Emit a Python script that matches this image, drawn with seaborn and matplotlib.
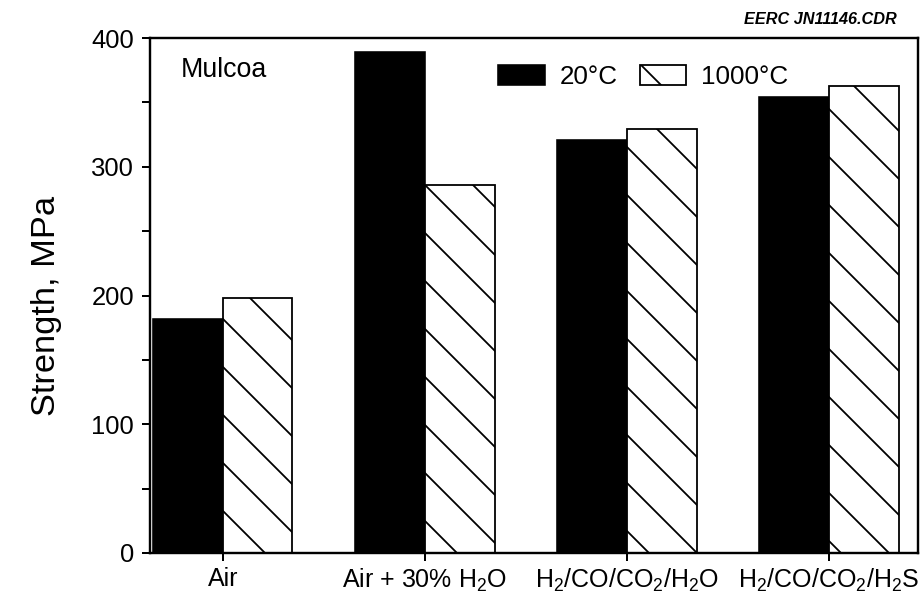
import matplotlib
matplotlib.use("Agg")
import matplotlib.pyplot as plt
import pandas as pd
import seaborn as sns
from matplotlib.ticker import MultipleLocator

# ──────────────────────────────────────────────────────────────────────────────
# Data
# ──────────────────────────────────────────────────────────────────────────────

categories = ["Air", "Air + 30% H$_2$O", "H$_2$/CO/CO$_2$/H$_2$O", "H$_2$/CO/CO$_2$/H$_2$S"]
temps = ["20°C", "1000°C"]
strength_20c = [182, 389, 321, 354]
strength_1000c = [198, 286, 329, 363]

df = pd.DataFrame({
    "atmosphere": categories * 2,
    "temp": [temps[0]] * 4 + [temps[1]] * 4,
    "strength": strength_20c + strength_1000c,
})

# ──────────────────────────────────────────────────────────────────────────────
# Style
# ──────────────────────────────────────────────────────────────────────────────

DPI = 288  # big dpi so the hatch lines come out widely spaced
sns.set_style("ticks")
plt.rcParams["font.family"] = ["Liberation Sans", "DejaVu Sans"]
plt.rcParams["mathtext.fontset"] = "custom"
plt.rcParams["mathtext.rm"] = "Liberation Sans"
plt.rcParams["mathtext.default"] = "regular"
plt.rcParams["hatch.linewidth"] = 0.45
plt.rcParams["hatch.color"] = "black"
for key in ["text.color", "axes.labelcolor", "xtick.color", "ytick.color"]:
    plt.rcParams[key] = "black"

fig = plt.figure(figsize=(922 / DPI, 593 / DPI), dpi=DPI)
ax = fig.add_axes([150 / 922, 40 / 593, 768 / 922, 515 / 593])

sns.barplot(data=df, x="atmosphere", y="strength", hue="temp",
            palette=["black", "white"], width=0.69, gap=0,
            legend=False, ax=ax)

for patch in ax.containers[0]:
    patch.set_edgecolor("black")
    patch.set_linewidth(0.4)
for patch in ax.containers[1]:
    patch.set_hatch("\\\\")
    patch.set_edgecolor("black")
    patch.set_linewidth(0.45)

ax.set_xlim(-0.36, 3.44)
ax.set_ylim(0, 400)
ax.yaxis.set_major_locator(MultipleLocator(100))
ax.yaxis.set_minor_locator(MultipleLocator(50))

for side in ["left", "bottom", "top", "right"]:
    ax.spines[side].set_visible(True)
    ax.spines[side].set_linewidth(0.6)
    ax.spines[side].set_color("black")

ax.tick_params(axis="y", which="both", direction="out", length=2.0, width=0.5,
               labelsize=6.4, pad=2.0)
ax.tick_params(axis="x", direction="out", length=2.0, width=0.5,
               labelsize=6.25, pad=1.5)

ax.set_xlabel("")
ax.set_ylabel("Strength, MPa", fontsize=8.6)
ax.yaxis.set_label_coords(-0.114, 0.48)

ax.text(0.04, 0.937, "Mulcoa", transform=ax.transAxes, fontsize=6.7,
        ha="left", va="center")

ax.legend(ax.containers, temps, loc="center left", bbox_to_anchor=(0.44, 0.925),
          ncol=2, frameon=False, fontsize=6.5, handlelength=1.8, handleheight=0.8,
          handletextpad=0.55, columnspacing=0.85, borderaxespad=0)

fig.text(897 / 922, 1 - 20 / 593, "EERC JN11146.CDR", fontsize=4.05,
         fontweight="bold", fontstyle="italic", ha="right", va="center")

plt.savefig("out.png", dpi=DPI)
plt.close()
